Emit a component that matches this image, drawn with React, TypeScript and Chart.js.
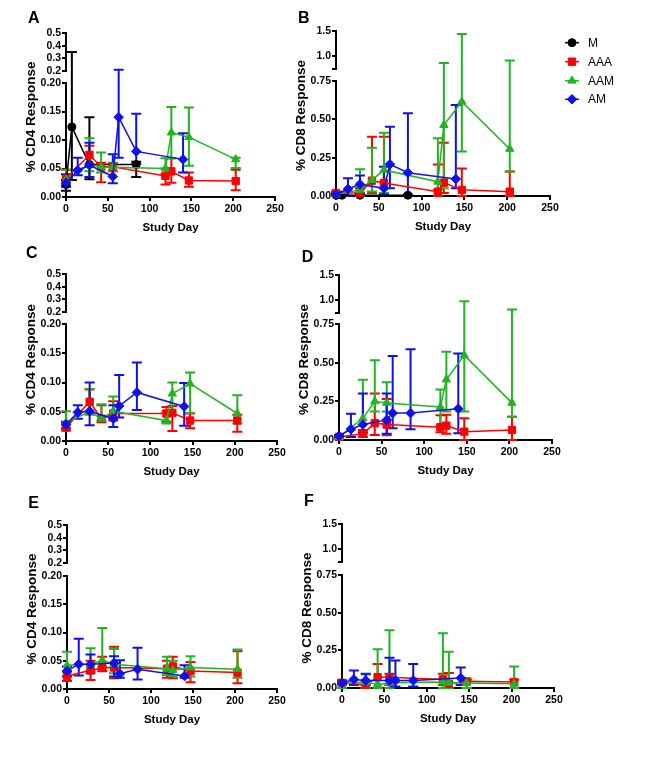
import React, { useEffect, useRef } from 'react';
import { Chart, registerables } from 'chart.js';
import { drawPoint } from 'chart.js/helpers';

Chart.register(...registerables);

// ---------------- Data ----------------
const X_TICKS = [0, 50, 100, 150, 200, 250];
const CD4_LOW_TICKS = [0, 0.05, 0.1, 0.15, 0.2];
const CD4_LOW_LABELS = ['0.00', '0.05', '0.10', '0.15', '0.20'];
const CD4_HIGH_TICKS = [0.2, 0.3, 0.4, 0.5];
const CD4_HIGH_LABELS = ['0.2', '0.3', '0.4', '0.5'];
const CD8_LOW_TICKS = [0, 0.25, 0.5, 0.75];
const CD8_LOW_LABELS = ['0.00', '0.25', '0.50', '0.75'];
const CD8_HIGH_TICKS = [0.75, 1.0, 1.5];
const CD8_HIGH_LABELS = ['', '1.0', '1.5'];

const SERIES_NAMES = ['M', 'AAA', 'AAM', 'AM'];
const DAYS_M = [0, 7, 28, 84];
const DAYS_AAA = [0, 28, 42, 56, 119, 126, 147, 203];
const DAYS_AAM = [0, 28, 42, 56, 119, 126, 147, 203];
const DAYS_AM = [0, 14, 28, 56, 63, 84, 140];

// Panel A (% CD4)
const A_M_MEAN = [0.022, 0.123, 0.057, 0.057];
const A_M_HI = [0.03, 0.35, 0.14, 0.062];
const A_M_LO = [0.011, 0.03, 0.031, 0.035];
const A_AAA_MEAN = [0.032, 0.074, 0.053, 0.053, 0.037, 0.045, 0.029, 0.028];
const A_AAA_HI = [0.048, 0.09, 0.06, 0.058, 0.05, 0.068, 0.043, 0.048];
const A_AAA_LO = [0.02, 0.055, 0.026, 0.045, 0.022, 0.025, 0.018, 0.012];
const A_AAM_MEAN = [0.03, 0.057, 0.052, 0.052, 0.05, 0.113, 0.105, 0.066];
const A_AAM_HI = [0.048, 0.103, 0.078, 0.06, 0.068, 0.158, 0.157, 0.069];
const A_AAM_LO = [0.025, 0.045, 0.043, 0.045, 0.04, 0.068, 0.055, 0.051];
const A_AM_MEAN = [0.025, 0.047, 0.056, 0.036, 0.14, 0.08, 0.066];
const A_AM_HI = [0.04, 0.069, 0.095, 0.075, 0.21, 0.146, 0.112];
const A_AM_LO = [0.018, 0.038, 0.035, 0.024, 0.069, 0.058, 0.043];

// Panel B (% CD8)
const B_M_MEAN = [0.005, 0.005, 0.005, 0.005];
const B_M_HI = [0.01, 0.01, 0.01, 0.01];
const B_M_LO = [0, 0, 0, 0];
const B_AAA_MEAN = [0.02, 0.02, 0.1, 0.085, 0.028, 0.087, 0.04, 0.028];
const B_AAA_HI = [0.03, 0.05, 0.387, 0.387, 0.206, 0.348, 0.18, 0.159];
const B_AAA_LO = [0.01, 0, 0.02, 0.02, 0, 0.02, 0, 0];
const B_AAM_MEAN = [0.01, 0.04, 0.104, 0.17, 0.093, 0.463, 0.615, 0.307];
const B_AAM_HI = [0.02, 0.174, 0.315, 0.413, 0.376, 0.87, 1.44, 0.92];
const B_AAM_LO = [0, 0, 0.03, 0.02, 0.04, 0.05, 0.29, 0.159];
const B_AM_MEAN = [0.01, 0.046, 0.076, 0.05, 0.207, 0.152, 0.111];
const B_AM_HI = [0.02, 0.115, 0.133, 0.19, 0.452, 0.54, 0.593];
const B_AM_LO = [0, 0, 0.02, 0.01, 0.05, 0, 0.05];

// Panel C (% CD4)
const C_AAA_MEAN = [0.023, 0.067, 0.038, 0.047, 0.047, 0.048, 0.035, 0.035];
const C_AAA_HI = [0.03, 0.088, 0.061, 0.068, 0.058, 0.06, 0.047, 0.045];
const C_AAA_LO = [0.018, 0.047, 0.032, 0.035, 0.033, 0.017, 0.022, 0.016];
const C_AAM_MEAN = [0.032, 0.05, 0.038, 0.051, 0.035, 0.081, 0.098, 0.047];
const C_AAM_HI = [0.051, 0.089, 0.063, 0.076, 0.05, 0.1, 0.117, 0.078];
const C_AAM_LO = [0.028, 0.045, 0.035, 0.04, 0.03, 0.045, 0.048, 0.03];
const C_AM_MEAN = [0.028, 0.049, 0.051, 0.038, 0.06, 0.083, 0.059];
const C_AM_HI = [0.033, 0.061, 0.1, 0.061, 0.113, 0.134, 0.099];
const C_AM_LO = [0.022, 0.038, 0.027, 0.024, 0.04, 0.053, 0.026];

// Panel D (% CD8)
const D_AAA_MEAN = [0.02, 0.04, 0.109, 0.1, 0.083, 0.093, 0.054, 0.065];
const D_AAA_HI = [0.03, 0.065, 0.3, 0.265, 0.16, 0.163, 0.14, 0.15];
const D_AAA_LO = [0.01, 0.02, 0.033, 0.03, 0.05, 0.04, 0, 0];
const D_AAM_MEAN = [0.02, 0.14, 0.25, 0.24, 0.213, 0.391, 0.548, 0.24];
const D_AAM_HI = [0.03, 0.39, 0.515, 0.374, 0.326, 0.57, 0.98, 0.82];
const D_AAM_LO = [0.01, 0.04, 0.185, 0.185, 0.09, 0.185, 0.185, 0.15];
const D_AM_MEAN = [0.026, 0.07, 0.1, 0.13, 0.174, 0.174, 0.202];
const D_AM_HI = [0.03, 0.17, 0.3, 0.3, 0.543, 0.587, 0.56];
const D_AM_LO = [0.02, 0.02, 0.05, 0.04, 0.076, 0.07, 0.043];

// Panel E (% CD4)
const E_AAA_MEAN = [0.023, 0.033, 0.037, 0.038, 0.036, 0.04, 0.032, 0.029];
const E_AAA_HI = [0.03, 0.05, 0.057, 0.075, 0.05, 0.057, 0.048, 0.067];
const E_AAA_LO = [0.014, 0.016, 0.032, 0.019, 0.02, 0.019, 0.012, 0.01];
const E_AAM_MEAN = [0.042, 0.044, 0.051, 0.044, 0.036, 0.033, 0.038, 0.035];
const E_AAM_HI = [0.066, 0.072, 0.108, 0.071, 0.057, 0.05, 0.058, 0.07];
const E_AAM_LO = [0.03, 0.032, 0.039, 0.028, 0.025, 0.022, 0.022, 0.02];
const E_AM_MEAN = [0.032, 0.044, 0.044, 0.046, 0.027, 0.035, 0.023];
const E_AM_HI = [0.04, 0.089, 0.061, 0.058, 0.051, 0.073, 0.042];
const E_AM_LO = [0.022, 0.024, 0.028, 0.022, 0.02, 0.017, 0.02];

// Panel F (% CD8)
const F_AAA_MEAN = [0.035, 0.022, 0.072, 0.072, 0.057, 0.028, 0.044, 0.04];
const F_AAA_HI = [0.05, 0.04, 0.16, 0.095, 0.094, 0.1, 0.06, 0.055];
const F_AAA_LO = [0, 0, 0, 0, 0.02, 0, 0, 0];
const F_AAM_MEAN = [0.03, 0.04, 0.024, 0.035, 0.04, 0.035, 0.033, 0.028];
const F_AAM_HI = [0.04, 0.09, 0.258, 0.383, 0.363, 0.24, 0.05, 0.142];
const F_AAM_LO = [0, 0, 0, 0, 0, 0, 0, 0];
const F_AM_MEAN = [0.033, 0.057, 0.05, 0.05, 0.05, 0.05, 0.066];
const F_AM_HI = [0.05, 0.116, 0.094, 0.2, 0.182, 0.16, 0.136];
const F_AM_LO = [0.02, 0.02, 0.02, 0.02, 0.01, 0.01, 0.02];

// ---------------- Styles ----------------
const FONT = '"Liberation Sans", Arial, Helvetica, sans-serif';
const COLORS = ['#000000', '#ff0000', '#22b422', '#1010e8'];
const STYLES = ['circle', 'rect', 'triangle', 'rectRot'];
const RADII = [4, 5.2, 4.8, 4.8];
const AXIS_W = 62;
const X_H = 42;
const PAD_TOP = 8;

type S = { mean: number[]; hi: number[]; lo: number[] } | null;
interface PanelDef {
  letter: string;
  kind: 'CD4' | 'CD8';
  series: S[];
  legend: boolean;
  axisX: number; x250: number; yTop: number; upperBottom: number; lowerTop: number; yBottom: number;
  letterX: number; letterY: number;
}

const PANELS: PanelDef[] = [
  {
    letter: 'A', kind: 'CD4', legend: false,
    series: [
      { mean: A_M_MEAN, hi: A_M_HI, lo: A_M_LO },
      { mean: A_AAA_MEAN, hi: A_AAA_HI, lo: A_AAA_LO },
      { mean: A_AAM_MEAN, hi: A_AAM_HI, lo: A_AAM_LO },
      { mean: A_AM_MEAN, hi: A_AM_HI, lo: A_AM_LO },
    ],
    axisX: 66, x250: 275, yTop: 33, upperBottom: 71, lowerTop: 83, yBottom: 197, letterX: 28, letterY: 9.6,
  },
  {
    letter: 'B', kind: 'CD8', legend: true,
    series: [
      { mean: B_M_MEAN, hi: B_M_HI, lo: B_M_LO },
      { mean: B_AAA_MEAN, hi: B_AAA_HI, lo: B_AAA_LO },
      { mean: B_AAM_MEAN, hi: B_AAM_HI, lo: B_AAM_LO },
      { mean: B_AM_MEAN, hi: B_AM_HI, lo: B_AM_LO },
    ],
    axisX: 336, x250: 550, yTop: 31, upperBottom: 69, lowerTop: 81, yBottom: 196, letterX: 298, letterY: 9.6,
  },
  {
    letter: 'C', kind: 'CD4', legend: false,
    series: [
      null,
      { mean: C_AAA_MEAN, hi: C_AAA_HI, lo: C_AAA_LO },
      { mean: C_AAM_MEAN, hi: C_AAM_HI, lo: C_AAM_LO },
      { mean: C_AM_MEAN, hi: C_AM_HI, lo: C_AM_LO },
    ],
    axisX: 66, x250: 277, yTop: 274, upperBottom: 312, lowerTop: 324, yBottom: 441, letterX: 26, letterY: 244.6,
  },
  {
    letter: 'D', kind: 'CD8', legend: false,
    series: [
      null,
      { mean: D_AAA_MEAN, hi: D_AAA_HI, lo: D_AAA_LO },
      { mean: D_AAM_MEAN, hi: D_AAM_HI, lo: D_AAM_LO },
      { mean: D_AM_MEAN, hi: D_AM_HI, lo: D_AM_LO },
    ],
    axisX: 339, x250: 552, yTop: 275, upperBottom: 313, lowerTop: 324, yBottom: 440, letterX: 301.7, letterY: 249,
  },
  {
    letter: 'E', kind: 'CD4', legend: false,
    series: [
      null,
      { mean: E_AAA_MEAN, hi: E_AAA_HI, lo: E_AAA_LO },
      { mean: E_AAM_MEAN, hi: E_AAM_HI, lo: E_AAM_LO },
      { mean: E_AM_MEAN, hi: E_AM_HI, lo: E_AM_LO },
    ],
    axisX: 67, x250: 277, yTop: 525, upperBottom: 563, lowerTop: 576, yBottom: 689, letterX: 28.3, letterY: 494.6,
  },
  {
    letter: 'F', kind: 'CD8', legend: false,
    series: [
      null,
      { mean: F_AAA_MEAN, hi: F_AAA_HI, lo: F_AAA_LO },
      { mean: F_AAM_MEAN, hi: F_AAM_HI, lo: F_AAM_LO },
      { mean: F_AM_MEAN, hi: F_AM_HI, lo: F_AM_LO },
    ],
    axisX: 342, x250: 554, yTop: 524, upperBottom: 562, lowerTop: 575, yBottom: 688, letterX: 304, letterY: 493,
  },
];

const DAYS = [DAYS_M, DAYS_AAA, DAYS_AAM, DAYS_AM];

function canvasSize(p: PanelDef) {
  const R = p.legend ? 90 : 16;
  const W = AXIS_W + (p.x250 - p.axisX) + R;
  const H = PAD_TOP + (p.yBottom - p.yTop) + X_H;
  return { R, W, H };
}

function buildConfig(p: PanelDef): any {
  const isCD4 = p.kind === 'CD4';
  const lowTicks = isCD4 ? CD4_LOW_TICKS : CD8_LOW_TICKS;
  const lowLabels = isCD4 ? CD4_LOW_LABELS : CD8_LOW_LABELS;
  const highTicks = isCD4 ? CD4_HIGH_TICKS : CD8_HIGH_TICKS;
  const highLabels = isCD4 ? CD4_HIGH_LABELS : CD8_HIGH_LABELS;
  const { R } = canvasSize(p);

  const datasets: any[] = [];
  for (let i = 3; i >= 0; i--) {
    const s = p.series[i];
    if (!s) continue;
    datasets.push({
      label: SERIES_NAMES[i],
      data: DAYS[i].map((d, j) => ({ x: d, y: s.mean[j] })),
      errHi: s.hi,
      errLo: s.lo,
      seriesIndex: i,
      borderColor: COLORS[i],
      backgroundColor: COLORS[i],
      pointBackgroundColor: COLORS[i],
      pointBorderColor: COLORS[i],
      pointStyle: STYLES[i],
      pointRadius: RADII[i],
      pointHoverRadius: RADII[i],
      pointBorderWidth: 1,
      borderWidth: 1.5,
      tension: 0,
      fill: false,
      clip: false,
      xAxisID: 'x',
      yAxisID: 'yLow',
    });
  }

  const gridOpts = { drawOnChartArea: false, drawTicks: true, tickLength: 4, color: '#000', lineWidth: 2 };
  const borderOpts = { display: true, color: '#000', width: 2 };
  const tickFont = { family: FONT, size: 10.5, weight: 'bold' as const };

  const yScale = (ticksArr: number[], labels: string[], min: number, max: number, weight: number) => ({
    type: 'linear',
    axis: 'y',
    position: 'left',
    stack: 'ystack',
    stackWeight: weight,
    min,
    max,
    grid: gridOpts,
    border: borderOpts,
    ticks: {
      color: '#000',
      font: tickFont,
      padding: 1,
      autoSkip: false,
      callback: (_v: any, idx: number) => labels[idx] ?? '',
    },
    afterBuildTicks: (s: any) => {
      s.ticks = ticksArr.map((v) => ({ value: v }));
    },
    afterFit: (s: any) => {
      s.width = AXIS_W;
    },
  });

  const errorBars = {
    id: 'errorBars',
    beforeDatasetsDraw(chart: any) {
      const ctx = chart.ctx;
      const xs = chart.scales.x;
      const lo = chart.scales.yLow;
      const hi = chart.scales.yHigh;
      const split = lo.max;
      const yPix = (v: number) => (v <= split ? lo.getPixelForValue(v) : hi.getPixelForValue(v));
      const list = [...chart.data.datasets].sort((a: any, b: any) => a.seriesIndex - b.seriesIndex);
      ctx.save();
      ctx.lineWidth = 2;
      ctx.lineCap = 'butt';
      for (const ds of list) {
        ctx.strokeStyle = ds.borderColor;
        ds.data.forEach((pt: any, j: number) => {
          const x = xs.getPixelForValue(pt.x);
          const y1 = yPix(ds.errHi[j]);
          const y2 = yPix(ds.errLo[j]);
          ctx.beginPath();
          ctx.moveTo(x, y1);
          ctx.lineTo(x, y2);
          ctx.moveTo(x - 5, y1);
          ctx.lineTo(x + 5, y1);
          ctx.moveTo(x - 5, y2);
          ctx.lineTo(x + 5, y2);
          ctx.stroke();
        });
      }
      ctx.restore();
    },
  };

  const yTitle = {
    id: 'yTitle',
    afterDraw(chart: any) {
      const ctx = chart.ctx;
      const a = chart.chartArea;
      ctx.save();
      ctx.translate(a.left - 35, (a.top + a.bottom) / 2 + 2);
      ctx.rotate(-Math.PI / 2);
      ctx.font = `bold 13.5px ${FONT}`;
      ctx.fillStyle = '#000';
      ctx.textAlign = 'center';
      ctx.textBaseline = 'middle';
      ctx.fillText(isCD4 ? '% CD4 Response' : '% CD8 Response', 0, 0);
      ctx.restore();
    },
  };

  const legendRows = [11.7, 30.7, 49.7, 68.3];
  const legendPlugin = {
    id: 'customLegend',
    afterDraw(chart: any) {
      if (!p.legend) return;
      const ctx = chart.ctx;
      const a = chart.chartArea;
      ctx.save();
      for (let i = 0; i < 4; i++) {
        const y = a.top + legendRows[i];
        const x0 = a.right + 15;
        ctx.strokeStyle = COLORS[i];
        ctx.fillStyle = COLORS[i];
        ctx.lineWidth = 1.5;
        ctx.beginPath();
        ctx.moveTo(x0, y);
        ctx.lineTo(x0 + 14, y);
        ctx.stroke();
        ctx.lineWidth = 1;
        drawPoint(ctx, { pointStyle: STYLES[i] as any, radius: RADII[i], rotation: 0, borderWidth: 1 }, x0 + 7, y);
        ctx.fillStyle = '#000';
        ctx.font = `12px ${FONT}`;
        ctx.textAlign = 'left';
        ctx.textBaseline = 'middle';
        ctx.fillText(SERIES_NAMES[i], x0 + 23, y + 0.5);
      }
      ctx.restore();
    },
  };

  return {
    type: 'line',
    data: { datasets },
    options: {
      responsive: false,
      maintainAspectRatio: false,
      animation: false,
      events: [],
      layout: { padding: { left: 0, top: PAD_TOP, right: R, bottom: 0 } },
      plugins: { legend: { display: false }, tooltip: { enabled: false }, title: { display: false } },
      scales: {
        x: {
          type: 'linear',
          position: 'bottom',
          min: 0,
          max: 250,
          grid: gridOpts,
          border: borderOpts,
          ticks: { color: '#000', font: tickFont, padding: 2, maxRotation: 0, autoSkip: false },
          afterBuildTicks: (s: any) => {
            s.ticks = X_TICKS.map((v) => ({ value: v }));
          },
          afterFit: (s: any) => {
            s.height = X_H;
          },
          title: {
            display: true,
            text: 'Study Day',
            color: '#000',
            font: { family: FONT, size: 11.5, weight: 'bold' },
            padding: { top: 0, bottom: 4 },
          },
        },
        yLow: yScale(lowTicks, lowLabels, 0, lowTicks[lowTicks.length - 1], p.yBottom - p.lowerTop),
        yGap: {
          type: 'linear',
          axis: 'y',
          position: 'left',
          stack: 'ystack',
          stackWeight: p.lowerTop - p.upperBottom,
          display: false,
          min: 0,
          max: 1,
          afterFit: (s: any) => {
            s.width = AXIS_W;
          },
        },
        yHigh: yScale(highTicks, highLabels, highTicks[0], highTicks[highTicks.length - 1], p.upperBottom - p.yTop),
      },
    },
    plugins: [errorBars, yTitle, legendPlugin],
  };
}

function Panel({ def }: { def: PanelDef }) {
  const ref = useRef<HTMLCanvasElement>(null);
  const { W, H } = canvasSize(def);
  useEffect(() => {
    if (!ref.current) return;
    const chart = new Chart(ref.current, buildConfig(def));
    return () => chart.destroy();
  }, [def]);
  return (
    <>
      <canvas
        ref={ref}
        width={W}
        height={H}
        style={{ position: 'absolute', left: def.axisX - AXIS_W, top: def.yTop - PAD_TOP, width: W, height: H }}
      />
      <div
        style={{
          position: 'absolute',
          left: def.letterX,
          top: def.letterY,
          font: `bold 16px ${FONT}`,
          lineHeight: '16px',
          color: '#000',
        }}
      >
        {def.letter}
      </div>
    </>
  );
}

export default function App() {
  useEffect(() => {
    Chart.defaults.font.family = FONT;
    Chart.defaults.color = '#000';
  }, []);
  return (
    <div style={{ position: 'absolute', left: 0, top: 0, width: 665, height: 758, background: '#fff', overflow: 'hidden' }}>
      {PANELS.map((p) => (
        <Panel key={p.letter} def={p} />
      ))}
    </div>
  );
}
